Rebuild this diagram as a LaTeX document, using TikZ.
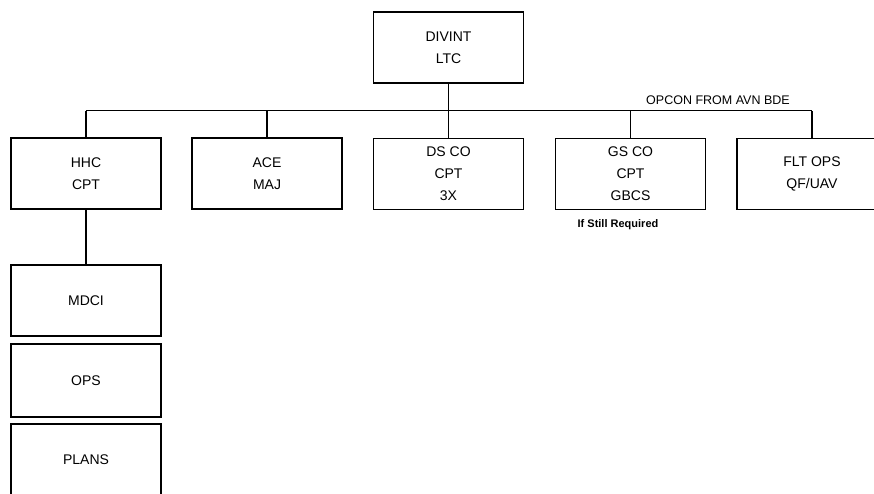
\documentclass[tikz,border=0pt]{standalone}
\usepackage{fontspec}
\setmainfont{Liberation Sans}

\begin{document}
\begin{tikzpicture}[x=1pt, y=-1pt,
    unit/.style={draw, line width=1.3pt, fill=white, inner sep=0pt, minimum width=150pt,
      minimum height=71pt, align=center, font=\fontsize{14}{22}\selectfont},
    link/.style={line width=1.2pt},
    note/.style={inner sep=0pt, font=\fontsize{12.5}{14}\selectfont}]
  \clip (0,0) rectangle (874,493);
  \node[unit] (divint) at (448.5,47.5) {DIVINT\\LTC};
  \node[unit] (hhc) at (86,173.5) {HHC\\CPT};
  \node[unit] (ace) at (267,173.5) {ACE\\MAJ};
  \node[unit] (dsco) at (448.5,174) {DS CO\\CPT\\3X};
  \node[unit] (gsco) at (630.5,174) {GS CO\\CPT\\GBCS};
  \node[unit] (fltops) at (812,174) {FLT OPS\\QF/UAV};
  \node[unit] (mdci) at (86,300.5) {MDCI};
  \node[unit, minimum height=73pt] (ops) at (86,380.5) {OPS};
  \node[unit] (plans) at (86,459.5) {PLANS};
  \node[note] (opcon) at (718,100) {OPCON FROM AVN BDE};
  \node[note, font=\fontsize{11}{13}\selectfont\bfseries] (still) at (618,225) {If Still Required};
  \coordinate (busL) at (86,110.5);
  \coordinate (busR) at (812,110.5);
  \draw[link] (busL) -- (busR);
  \draw[link] (divint.south) -- (divint.south |- busL);
  \draw[link] (hhc.north) -- (hhc.north |- busL) (ace.north) -- (ace.north |- busL)
    (dsco.north) -- (dsco.north |- busL) (gsco.north) -- (gsco.north |- busL)
    (fltops.north) -- (fltops.north |- busL);
  \draw[link] (hhc.south) -- (mdci.north);
\end{tikzpicture}
\end{document}
